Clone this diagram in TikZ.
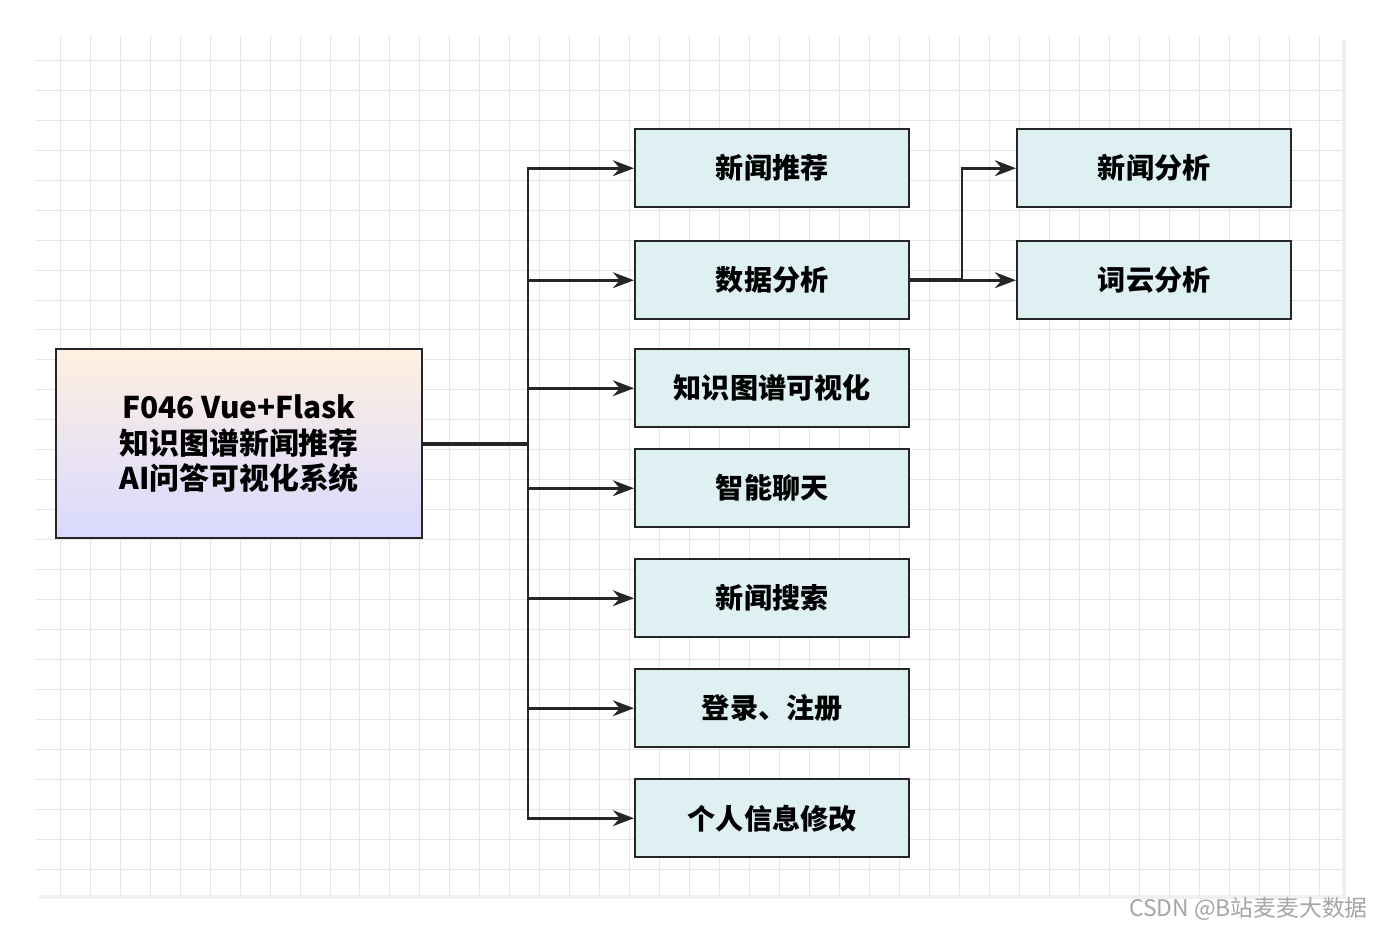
\documentclass[tikz,border=0pt]{standalone}
\usepackage{fontspec}
\newfontfamily\cjk{Noto Sans CJK SC}
\usetikzlibrary{arrows.meta}
\definecolor{leaffill}{HTML}{DFF0F3}
\begin{document}
\begin{tikzpicture}[x=0.02cm,y=-0.02cm,
  leaf/.style={draw=black!85,line width=1.4pt,fill=leaffill,minimum width=5.48cm,minimum height=1.56cm,font=\cjk\fontsize{16}{19}\selectfont\bfseries,anchor=north west},
  conn/.style={draw=black!85,line width=1.6pt},
  arr/.style={conn,-{Stealth[length=12pt,width=9pt]}}]
\useasboundingbox (0,0) rectangle (1378,932);
\fill[white] (0,0) rectangle (1378,932);
\fill[black!6] (39,39) rectangle (1346,899);
\fill[white] (36,36) rectangle (1342,895);
\draw[black!10,line width=0.5pt] (36,36) grid[step=0.6cm] (1342,895);
\node[draw=black!85,line width=1.4pt,top color=orange!12!white,bottom color=blue!15!white,minimum width=7.32cm,minimum height=3.78cm,anchor=north west,align=center,font=\cjk\fontsize{17}{20}\selectfont\bfseries] (root) at (55,348) {F046 Vue+Flask\\知识图谱新闻推荐\\AI问答可视化系统};
\node[leaf] (a) at (634,128) {新闻推荐};
\node[leaf] (b) at (634,240) {数据分析};
\node[leaf] (c) at (634,348) {知识图谱可视化};
\node[leaf] (d) at (634,448) {智能聊天};
\node[leaf] (e) at (634,558) {新闻搜索};
\node[leaf] (f) at (634,668) {登录、注册};
\node[leaf] (g) at (634,778) {个人信息修改};
\node[leaf] (h) at (1016,128) {新闻分析};
\node[leaf] (i) at (1016,240) {词云分析};
\coordinate (t) at (root.east -| 528,0);
\draw[conn,line width=2.4pt] (root.east) -- (t);
\foreach \n in {a,b,c,d,e,f,g} \draw[arr] (t) |- (\n.west);
\coordinate (s) at (b.east -| 962,0);
\draw[conn,line width=2.4pt] (b.east) -- (s);
\foreach \n in {h,i} \draw[arr] (s) |- (\n.west);
\node[anchor=east,text=black!35,font=\cjk\fontsize{13}{15}\selectfont] (wm) at (1374,909) {CSDN @B站麦麦大数据};
\end{tikzpicture}
\end{document}
